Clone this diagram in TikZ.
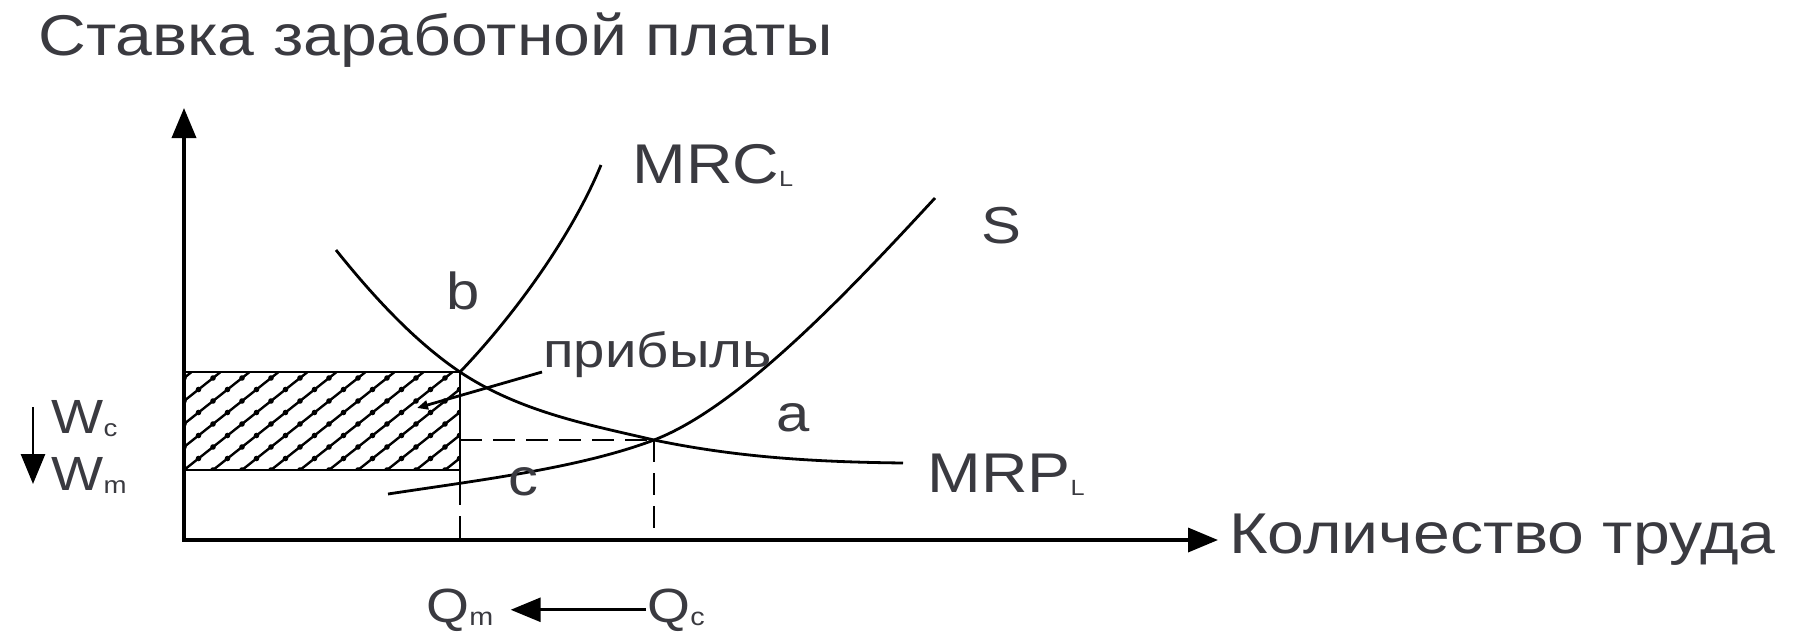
\documentclass[tikz,border=0pt]{standalone}
\usepackage{fontspec}
\setmainfont[FakeStretch=1.15]{Liberation Sans}
\usetikzlibrary{arrows.meta,positioning}
\definecolor{labelGray}{RGB}{58,58,64}
\colorlet{txtgray}{labelGray}
\newcommand{\lowidx}[2][22]{\raisebox{-3pt}{\fontsize{#1}{#1}\selectfont #2}}

\begin{document}
\begin{tikzpicture}[x=1pt,y=-1pt,line width=2.8pt,>={Triangle[length=30pt,width=24pt]},
  lbl/.style={text=txtgray,inner sep=0pt,font=\fontsize{52}{52}\selectfont},
  biglbl/.style={lbl,font=\fontsize{57.5}{58}\selectfont},
  smalllbl/.style={lbl,font=\fontsize{48}{48}\selectfont},
  axis/.style={line width=3.6pt},
  hatch/.style={line width=2.4pt},
  guide/.style={dashed,dash pattern=on 22pt off 11pt}]
\useasboundingbox (0,0) rectangle (1800,640);
\coordinate (O) at (184,540);
\coordinate (ytip) at (184,108);
\coordinate (xtip) at (1218,540);
\coordinate (b) at (460,372);
\coordinate (e) at (654,440);
\coordinate (mrpstart) at (336,250);
\coordinate (mrpend) at (903,463);
\coordinate (mrctop) at (601,165);
\coordinate (sstart) at (388,494);
\coordinate (stop) at (935,198);
\coordinate (qmtop) at (460,483);
\coordinate (profit) at (417,408);
\coordinate (wtop) at (33,407);
\coordinate (wbot) at (33,484);
% hatched profit area
\begin{scope}
\clip (184,372) rectangle (460,470);
\foreach \k in {-5,...,10}
  \draw[hatch] (184+29*\k,470) -- ++(145,-115);
\foreach \k in {-5,...,10}
  \foreach \j in {0,...,9}
    \fill (184+29*\k+14.5*\j,470-11.5*\j) circle (2.8);
\end{scope}
\draw (184,372) rectangle (460,470);
% axes
\draw[axis,<->] (ytip) |- (xtip);
% curves
\draw (mrpstart) .. controls (380,305) and (420,345) .. (b)
  .. controls (520,412) and (590,425) .. (e)
  .. controls (740,458) and (820,462) .. (mrpend);
\draw (b) .. controls (510,320) and (570,240) .. (mrctop);
\draw (sstart) .. controls (480,480) and (580,468) .. (e)
  .. controls (740,407) and (850,290) .. (stop);
% guides
\draw[guide] (b |- e) -- (e);
\draw[guide] (e) -- (e |- O);
\draw (460,470) -- (qmtop);
\draw[guide] (qmtop) -- (qmtop |- O);
% labels
\node[biglbl,anchor=west] (title) at (37,40) {Ставка заработной платы};
\node[biglbl,right=10pt of xtip] (xlab) {Количество труда};
\node[lbl,font=\fontsize{56}{56}\selectfont,right=30pt of mrctop] (mrclab) {MRC\lowidx{L}};
\node[lbl] (slab) at (1001,226) {S};
\node[lbl] (blab) at (463,291) {b};
\node[lbl] (alab) at (793,418) {a};
\node[lbl] (clab) at (523,482) {c};
\node[lbl,font=\fontsize{56}{56}\selectfont,anchor=west] (mrplab) at (926,475) {MRP\lowidx{L}};
\node[lbl,font=\fontsize{49}{49}\selectfont,anchor=base west] (prib) at (542,367) {прибыль};
\draw[-{Triangle[length=11pt,width=9pt]}] ([yshift=-5pt]prib.base west) -- (profit);
\node[smalllbl,anchor=base west] (wc) at (50,433) {W\lowidx[24]{c}};
\node[smalllbl,anchor=base west] (wm) at (50,490) {W\lowidx[24]{m}};
\draw[->] (wtop) -- (wbot);
\node[smalllbl,anchor=base west] (qm) at (425,622) {Q\lowidx[25]{m}};
\node[smalllbl,anchor=base west] (qc) at (646,622) {Q\lowidx[25]{c}};
\draw[->] (qc.west) -- ([xshift=16pt]qm.east);
\end{tikzpicture}
\end{document}
